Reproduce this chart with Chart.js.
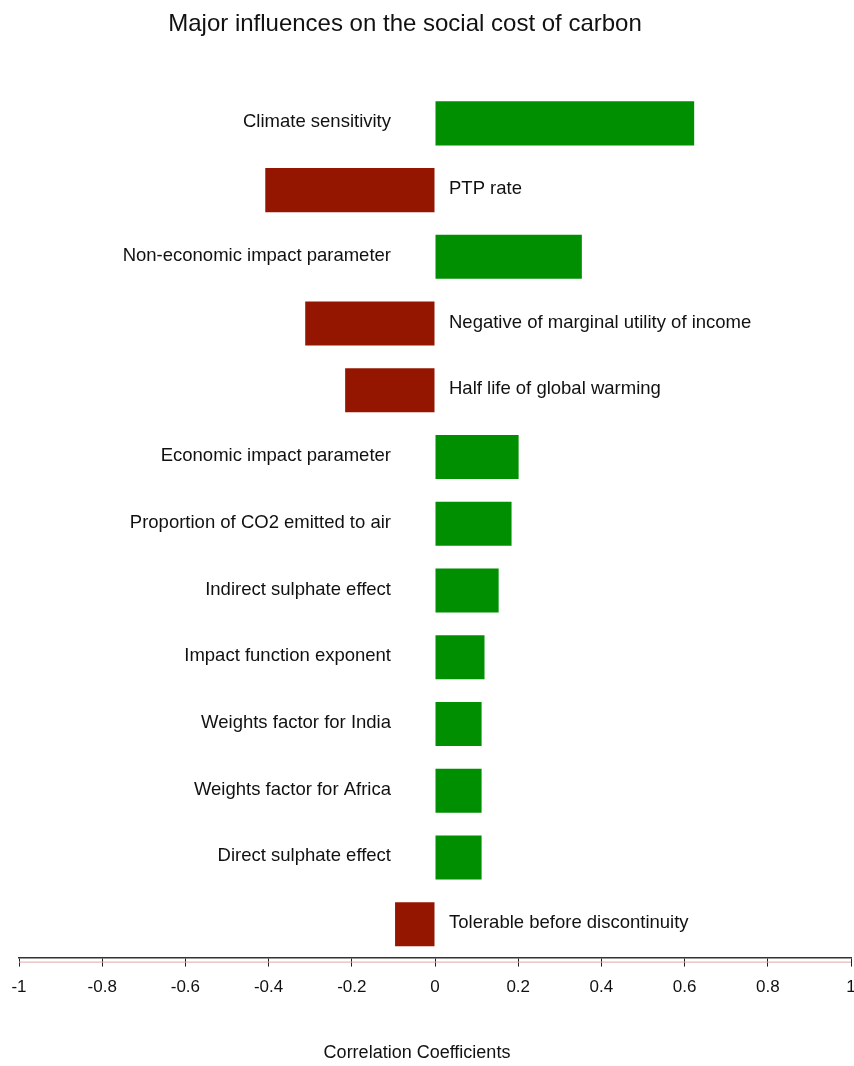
<!DOCTYPE html>
<html>
<head>
<meta charset="utf-8">
<title>Major influences on the social cost of carbon</title>
<script src="https://cdn.jsdelivr.net/npm/chart.js@4.4.1/dist/chart.umd.min.js"></script>
<style>
  html, body { margin: 0; padding: 0; background: #fff; }
  #wrap { width: 854px; height: 1066px; position: relative; }
</style>
</head>
<body>
<div id="wrap"><canvas id="scc"></canvas></div>
<script>
// chart data
const factors = [
    'Climate sensitivity',
    'PTP rate',
    'Non-economic impact parameter',
    'Negative of marginal utility of income',
    'Half life of global warming',
    'Economic impact parameter',
    'Proportion of CO2 emitted to air',
    'Indirect sulphate effect',
    'Impact function exponent',
    'Weights factor for India',
    'Weights factor for Africa',
    'Direct sulphate effect',
    'Tolerable before discontinuity'
];
const correlations = [0.623, -0.408, 0.353, -0.312, -0.216, 0.201, 0.184, 0.153, 0.119, 0.112, 0.112, 0.112, -0.096];
const tickLabels = ['-1', '-0.8', '-0.6', '-0.4', '-0.2', '0', '0.2', '0.4', '0.6', '0.8', '1'];

const chartTitle = 'Major influences on the social cost of carbon';
const axisTitle = 'Correlation Coefficients';

const posColor = '#008f00';
const negColor = '#941600';
const fontFamily = '"Liberation Sans", Arial, sans-serif';

// chart title and axis title, both sit a little left of centre in the original
const titlePlugin = {
    id: 'titlePlugin',
    afterDraw(chart) {
        const ctx = chart.ctx;
        ctx.save();
        ctx.fillStyle = '#111';
        ctx.textAlign = 'center';
        ctx.textBaseline = 'middle';
        ctx.font = '24px ' + fontFamily;
        ctx.fillText(chartTitle, 405, 24);
        ctx.font = '18px ' + fontFamily;
        ctx.fillText(axisTitle, 417, 1053);
        ctx.restore();
    }
};

// factor names next to the zero line
const barLabels = {
    id: 'barLabels',
    afterDatasetsDraw(chart) {
        const ctx = chart.ctx;
        const xScale = chart.scales.x;
        const zero = xScale.getPixelForValue(0);
        const meta = chart.getDatasetMeta(0);
        ctx.save();
        ctx.fillStyle = '#111';
        ctx.font = '18.5px ' + fontFamily;
        ctx.textBaseline = 'alphabetic';
        meta.data.forEach((bar, i) => {
            if (correlations[i] >= 0) {
                ctx.textAlign = 'right';
                ctx.fillText(factors[i], zero - 44, bar.y + 4);
            } else {
                ctx.textAlign = 'left';
                ctx.fillText(factors[i], zero + 14, bar.y + 4);
            }
        });
        ctx.restore();
    }
};

// second faint line under the axis
const axisShadow = {
    id: 'axisShadow',
    afterDraw(chart) {
        const ctx = chart.ctx;
        const xScale = chart.scales.x;
        const y = chart.chartArea.bottom + 4.5;
        ctx.save();
        ctx.strokeStyle = '#e0a8a8';
        ctx.lineWidth = 1;
        ctx.beginPath();
        ctx.moveTo(xScale.getPixelForValue(-1), y);
        ctx.lineTo(xScale.getPixelForValue(1), y);
        ctx.stroke();
        ctx.restore();
    }
};

new Chart(document.getElementById('scc').getContext('2d'), {
    type: 'bar',
    data: {
        labels: factors,
        datasets: [{
            data: correlations,
            backgroundColor: correlations.map(v => v >= 0 ? posColor : negColor),
            borderWidth: 0,
            categoryPercentage: 1,
            barPercentage: 0.66
        }]
    },
    options: {
        indexAxis: 'y',
        responsive: true,
        maintainAspectRatio: false,
        animation: false,
        layout: {
            padding: { top: 90, left: 19, right: 3, bottom: 57 }
        },
        plugins: {
            legend: { display: false },
            title: { display: false },
            tooltip: { enabled: false }
        },
        scales: {
            y: {
                display: false
            },
            x: {
                type: 'linear',
                min: -1,
                max: 1,
                afterFit(scale) {
                    // let the end labels hang over the edges
                    scale.paddingLeft = 0;
                    scale.paddingRight = 0;
                },
                ticks: {
                    stepSize: 0.2,
                    color: '#111',
                    padding: 11,
                    font: { family: fontFamily, size: 17 },
                    maxRotation: 0,
                    callback: (value, index) => tickLabels[index]
                },
                grid: {
                    drawOnChartArea: false,
                    drawTicks: true,
                    tickLength: 9,
                    color: '#222'
                },
                border: {
                    display: true,
                    color: '#333',
                    width: 1.5
                }
            }
        }
    },
    plugins: [titlePlugin, barLabels, axisShadow]
});
</script>
</body>
</html>
